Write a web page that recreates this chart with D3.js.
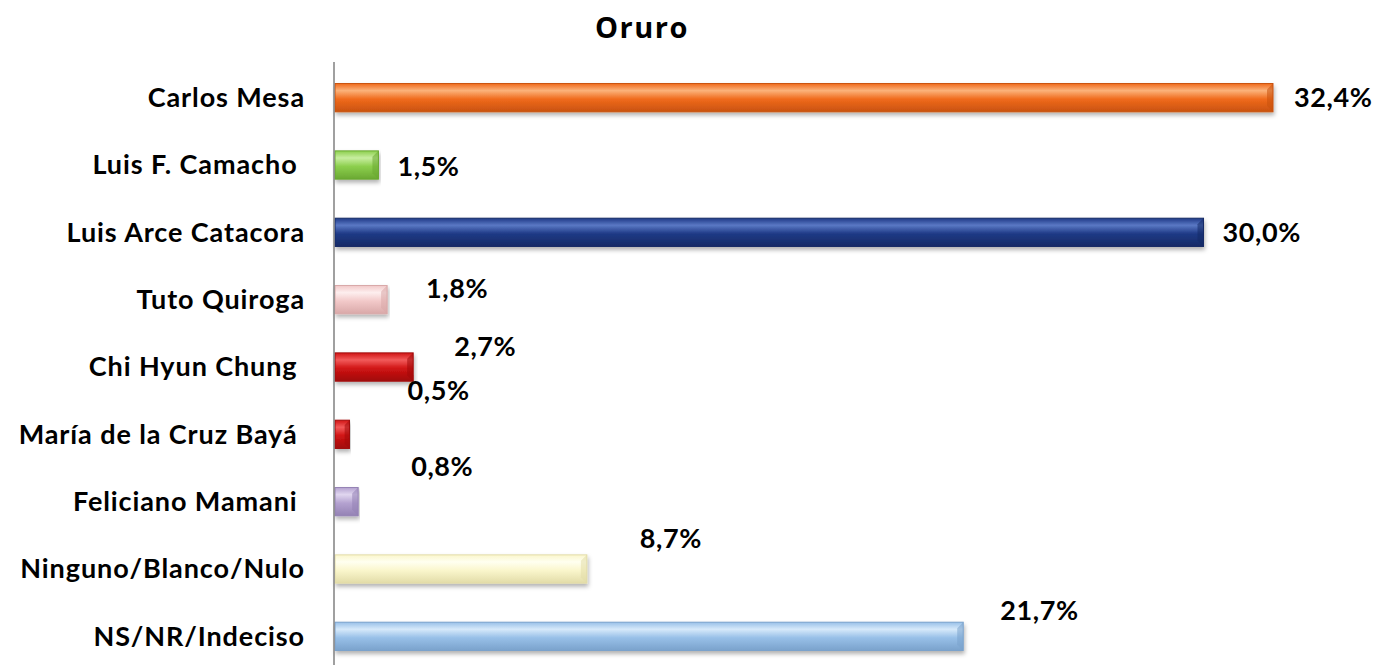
<!DOCTYPE html>
<html>
<head>
<meta charset="utf-8">
<script src="https://cdn.jsdelivr.net/npm/d3@7"></script>
<style>
  body { margin: 0; background: #fff; }
  svg { display: block; }
</style>
</head>
<body>
<div id="chart"></div>
<script>
// data
const candidates = [
    "Carlos Mesa", "Luis F. Camacho ", "Luis Arce Catacora", "Tuto Quiroga",
    "Chi Hyun Chung ", "María de la Cruz Bayá ", "Feliciano Mamani ",
    "Ninguno/Blanco/Nulo", "NS/NR/Indeciso"
];
const percents = [32.4, 1.5, 30.0, 1.8, 2.7, 0.5, 0.8, 8.7, 21.7];
const valueLabels = ["32,4%", "1,5%", "30,0%", "1,8%", "2,7%", "0,5%", "0,8%", "8,7%", "21,7%"];

// bar colours (base, light, dark)
const barColors = [
    ["#f06a1c", "#fbb27a", "#c9520f"],
    ["#8ccf4d", "#c8eea0", "#6aa832"],
    ["#1f3a86", "#5a78c4", "#142a66"],
    ["#f2c9c9", "#fdeeee", "#d9a8a8"],
    ["#d01414", "#f25a5a", "#a00a0a"],
    ["#d01414", "#f25a5a", "#a00a0a"],
    ["#b4a2d0", "#e0d6ef", "#9482b4"],
    ["#faf6cc", "#fffff0", "#e2dca8"],
    ["#98c0e8", "#d6e9fa", "#7aa2cc"]
];

// manual label offsets (Excel-style moved labels)
const labelShift = [[21, 0], [19, 2], [19, 0], [39, -11], [41, -20], [58, -44], [53, -35], [53, -30], [37, -26]];

const width = 1382, height = 665;
const axisX = 335;

const svg = d3.select("#chart")
    .append("svg")
    .attr("width", width)
    .attr("height", height);

const x = d3.scaleLinear().domain([0, 32.4]).range([axisX, 1273]);
const y = d3.scaleBand().domain(candidates).range([64, 670]).paddingInner(0.58).paddingOuter(0.29);

const defs = svg.append("defs");
barColors.forEach((c, i) => {
    const g = defs.append("linearGradient")
        .attr("id", "grad" + i)
        .attr("x1", 0).attr("y1", 0).attr("x2", 0).attr("y2", 1);
    g.append("stop").attr("offset", "0%").attr("stop-color", c[0]);
    g.append("stop").attr("offset", "25%").attr("stop-color", c[1]);
    g.append("stop").attr("offset", "55%").attr("stop-color", c[0]);
    g.append("stop").attr("offset", "100%").attr("stop-color", c[2]);
});
const shadow = defs.append("filter").attr("id", "shadow")
    .attr("x", "-5%").attr("y", "-20%").attr("width", "110%").attr("height", "160%");
shadow.append("feDropShadow")
    .attr("dx", 1).attr("dy", 3).attr("stdDeviation", 2)
    .attr("flood-color", "#000").attr("flood-opacity", 0.3);

// title
svg.append("text")
    .attr("x", 642)
    .attr("y", 38)
    .attr("text-anchor", "middle")
    .style("font-family", "'Open Sans', sans-serif")
    .style("font-weight", "bold")
    .style("font-size", "29px")
    .style("letter-spacing", "1.5px")
    .text("Oruro");

// bars
const bars = svg.selectAll(".bar")
    .data(percents)
    .enter()
    .append("g")
    .attr("class", "bar");

bars.append("rect")
    .attr("x", x(0))
    .attr("y", (d, i) => y(candidates[i]))
    .attr("width", d => x(d) - x(0))
    .attr("height", y.bandwidth())
    .attr("fill", (d, i) => `url(#grad${i})`)
    .attr("stroke", (d, i) => barColors[i][2])
    .attr("stroke-width", 1)
    .attr("filter", "url(#shadow)");

// bevel on right end
bars.append("path")
    .attr("d", (d, i) => {
        const x1 = x(d), y0 = y(candidates[i]), h = y.bandwidth();
        const b = Math.min(6, (x1 - x(0)) / 3);
        return `M${x1},${y0} L${x1 - b},${y0 + b} L${x1 - b},${y0 + h - b} L${x1},${y0 + h} Z`;
    })
    .attr("fill", (d, i) => barColors[i][2])
    .attr("opacity", 0.55);

// value labels
svg.selectAll(".value")
    .data(percents)
    .enter()
    .append("text")
    .attr("class", "value")
    .attr("x", (d, i) => x(d) + labelShift[i][0])
    .attr("y", (d, i) => y(candidates[i]) + y.bandwidth() / 2 + labelShift[i][1])
    .attr("dy", "0.35em")
    .style("font-family", "Lato, sans-serif")
    .style("font-weight", "bold")
    .style("font-size", "27px")
    .style("letter-spacing", "0.6px")
    .text((d, i) => valueLabels[i]);

// category labels
svg.selectAll(".cat")
    .data(candidates)
    .enter()
    .append("text")
    .attr("class", "cat")
    .attr("x", 305)
    .attr("y", d => y(d) + y.bandwidth() / 2)
    .attr("dy", "0.35em")
    .attr("text-anchor", "end")
    .style("font-family", "Lato, sans-serif")
    .style("font-weight", "bold")
    .style("font-size", "27px")
    .style("letter-spacing", "0.9px")
    .style("white-space", "pre")
    .text(d => d);

// vertical axis line
svg.append("line")
    .attr("x1", axisX - 1)
    .attr("x2", axisX - 1)
    .attr("y1", 62)
    .attr("y2", height)
    .attr("stroke", "#808080")
    .attr("stroke-width", 1.5);
</script>
</body>
</html>
